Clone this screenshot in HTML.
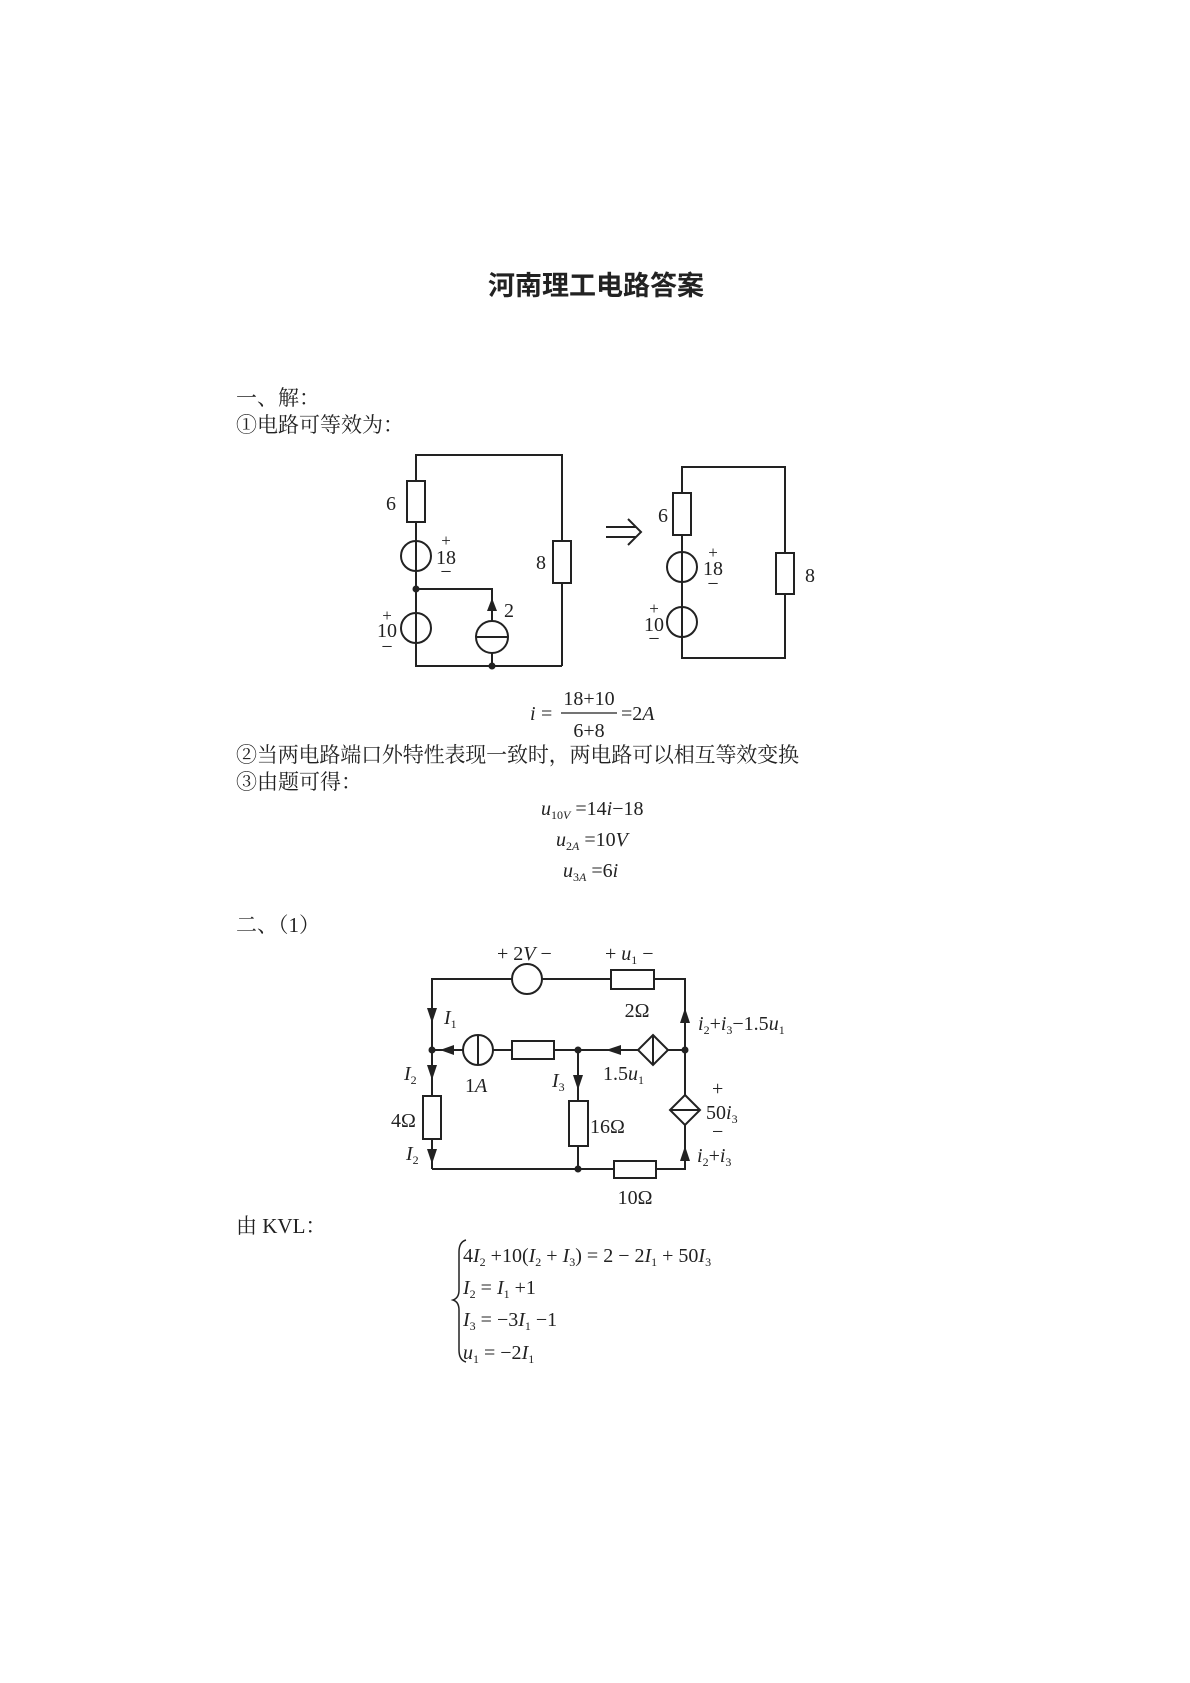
<!DOCTYPE html>
<html><head><meta charset="utf-8"><style>
html,body{margin:0;padding:0;background:#fff;}
svg{display:block;}
.cn{font-family:"Liberation Serif","Noto Serif CJK SC","Noto Sans CJK SC",serif;fill:#222;}
.m{font-family:"Liberation Serif",serif;fill:#222;font-size:20px;}
.i{font-style:italic;}
</style></head><body>
<svg width="1190" height="1683" viewBox="0 0 1190 1683" xmlns="http://www.w3.org/2000/svg">
<g class="cn">
<text x="596" y="295" font-size="27" font-weight="bold" text-anchor="middle" font-family="'Noto Sans CJK SC',sans-serif">河南理工电路答案</text>
<text x="236" y="405" font-size="21">一、解：</text>
<text x="236" y="432" font-size="21">①电路可等效为：</text>
<text x="236" y="762" font-size="21" textLength="563">②当两电路端口外特性表现一致时，两电路可以相互等效变换</text>
<text x="236" y="789" font-size="21">③由题可得：</text>
<text x="236" y="932" font-size="21">二、（1）</text>
<text x="236" y="1233" font-size="21">由 KVL：</text>
</g>
<g stroke="#222" stroke-width="2" fill="none">
<polyline points="416,481 416,455 562,455 562,541"/>
<line x1="562" y1="583" x2="562" y2="666"/>
<polyline points="416,643 416,666 562,666"/>
<rect x="407" y="481" width="18" height="41" fill="#fff"/>
<line x1="416" y1="522" x2="416" y2="613"/>
<circle cx="416" cy="556" r="15" fill="#fff"/><line x1="416" y1="541" x2="416" y2="571"/>
<circle cx="416" cy="628" r="15" fill="#fff"/><line x1="416" y1="613" x2="416" y2="643"/>
<polyline points="416,589 492,589 492,621"/>
<circle cx="492" cy="637" r="16" fill="#fff"/><line x1="476" y1="637" x2="508" y2="637"/>
<line x1="492" y1="653" x2="492" y2="666"/>
<rect x="553" y="541" width="18" height="42" fill="#fff"/>
<polyline points="682,493 682,467 785,467 785,553"/>
<polyline points="785,594 785,658 682,658 682,637"/>
<rect x="673" y="493" width="18" height="42" fill="#fff"/>
<line x1="682" y1="535" x2="682" y2="607"/>
<circle cx="682" cy="567" r="15" fill="#fff"/><line x1="682" y1="552" x2="682" y2="582"/>
<circle cx="682" cy="622" r="15" fill="#fff"/><line x1="682" y1="607" x2="682" y2="637"/>
<rect x="776" y="553" width="18" height="41" fill="#fff"/>
<line x1="606" y1="527" x2="636" y2="527"/><line x1="606" y1="537" x2="636" y2="537"/>
<polyline points="628,519 641,532 628,545"/>
<polyline points="432,1169 432,979 512,979"/>
<line x1="542" y1="979" x2="611" y2="979"/>
<polyline points="654,979 685,979 685,1095"/>
<circle cx="527" cy="979" r="15" fill="#fff"/>
<rect x="611" y="970" width="43" height="19" fill="#fff"/>
<line x1="432" y1="1050" x2="463" y2="1050"/>
<circle cx="478" cy="1050" r="15" fill="#fff"/><line x1="478" y1="1035" x2="478" y2="1065"/>
<line x1="493" y1="1050" x2="512" y2="1050"/>
<rect x="512" y="1041" width="42" height="18" fill="#fff"/>
<line x1="554" y1="1050" x2="638" y2="1050"/>
<polygon points="653,1035 668,1050 653,1065 638,1050" fill="#fff"/><line x1="653" y1="1035" x2="653" y2="1065"/>
<line x1="668" y1="1050" x2="685" y2="1050"/>
<line x1="578" y1="1050" x2="578" y2="1101"/>
<rect x="569" y="1101" width="19" height="45" fill="#fff"/>
<line x1="578" y1="1146" x2="578" y2="1169"/>
<rect x="423" y="1096" width="18" height="43" fill="#fff"/>
<polygon points="685,1095 700,1110 685,1125 670,1110" fill="#fff"/><line x1="670" y1="1110" x2="700" y2="1110"/>
<polyline points="685,1125 685,1169 656,1169"/>
<line x1="432" y1="1169" x2="614" y2="1169"/>
<rect x="614" y="1161" width="42" height="17" fill="#fff"/>
<path d="M466,1240 Q459,1242 459,1252 L459,1290 Q459,1298 453,1300 Q459,1302 459,1310 L459,1350 Q459,1360 466,1362" stroke-width="1.5"/>
<line x1="561" y1="713" x2="617" y2="713" stroke-width="1.3"/>
</g>
<g fill="#222">
<circle cx="416" cy="589" r="3.5"/><circle cx="492" cy="666" r="3.5"/>
<polygon points="492,598 487,611 497,611"/>
<circle cx="432" cy="1050" r="3.5"/><circle cx="578" cy="1050" r="3.5"/><circle cx="685" cy="1050" r="3.5"/><circle cx="578" cy="1169" r="3.5"/>
<polygon points="427,1008 437,1008 432,1023"/>
<polygon points="427,1065 437,1065 432,1080"/>
<polygon points="427,1149 437,1149 432,1164"/>
<polygon points="440,1050 454,1045 454,1055"/>
<polygon points="606,1050 621,1045 621,1055"/>
<polygon points="573,1075 583,1075 578,1090"/>
<polygon points="680,1023 690,1023 685,1008"/>
<polygon points="680,1161 690,1161 685,1146"/>
</g>
<g class="m">
<text x="391" y="510" text-anchor="middle">6</text>
<text x="446" y="546" text-anchor="middle" font-size="17">+</text>
<text x="446" y="564" text-anchor="middle">18</text>
<text x="446" y="578" text-anchor="middle">−</text>
<text x="541" y="569" text-anchor="middle">8</text>
<text x="387" y="621" text-anchor="middle" font-size="17">+</text>
<text x="387" y="637" text-anchor="middle">10</text>
<text x="387" y="653" text-anchor="middle">−</text>
<text x="509" y="617" text-anchor="middle">2</text>
<text x="663" y="522" text-anchor="middle">6</text>
<text x="713" y="558" text-anchor="middle" font-size="17">+</text>
<text x="713" y="575" text-anchor="middle">18</text>
<text x="713" y="590" text-anchor="middle">−</text>
<text x="654" y="614" text-anchor="middle" font-size="17">+</text>
<text x="654" y="631" text-anchor="middle">10</text>
<text x="654" y="645" text-anchor="middle">−</text>
<text x="810" y="582" text-anchor="middle">8</text>

<text x="530" y="720" class="i">i</text><text x="541" y="720">=</text>
<text x="589" y="705" text-anchor="middle">18+10</text>
<text x="589" y="737" text-anchor="middle">6+8</text>
<text x="621" y="720">=2<tspan class="i">A</tspan></text>

<text x="541" y="815"><tspan class="i">u</tspan><tspan font-size="12" dy="4">10<tspan class="i">V</tspan></tspan><tspan dy="-4"> =14</tspan><tspan class="i">i</tspan>−18</text>
<text x="556" y="846"><tspan class="i">u</tspan><tspan font-size="12" dy="4">2<tspan class="i">A</tspan></tspan><tspan dy="-4"> =10</tspan><tspan class="i">V</tspan></text>
<text x="563" y="877"><tspan class="i">u</tspan><tspan font-size="12" dy="4">3<tspan class="i">A</tspan></tspan><tspan dy="-4"> =6</tspan><tspan class="i">i</tspan></text>

<text x="497" y="960">+ 2<tspan class="i">V</tspan> −</text>
<text x="605" y="960">+ <tspan class="i">u</tspan><tspan font-size="12" dy="4">1</tspan><tspan dy="-4"> −</tspan></text>
<text x="637" y="1017" text-anchor="middle">2Ω</text>
<text x="444" y="1024" class="i">I<tspan font-size="12" dy="4" font-style="normal">1</tspan></text>
<text x="698" y="1030"><tspan class="i">i</tspan><tspan font-size="12" dy="4">2</tspan><tspan dy="-4">+</tspan><tspan class="i">i</tspan><tspan font-size="12" dy="4">3</tspan><tspan dy="-4">−1.5</tspan><tspan class="i">u</tspan><tspan font-size="12" dy="4">1</tspan></text>
<text x="404" y="1080" class="i">I<tspan font-size="12" dy="4" font-style="normal">2</tspan></text>
<text x="465" y="1092">1<tspan class="i">A</tspan></text>
<text x="552" y="1087" class="i">I<tspan font-size="12" dy="4" font-style="normal">3</tspan></text>
<text x="603" y="1080">1.5<tspan class="i">u</tspan><tspan font-size="12" dy="4">1</tspan></text>
<text x="391" y="1127">4Ω</text>
<text x="590" y="1133">16Ω</text>
<text x="712" y="1095">+</text>
<text x="706" y="1119">50<tspan class="i">i</tspan><tspan font-size="12" dy="4">3</tspan></text>
<text x="712" y="1138">−</text>
<text x="406" y="1160" class="i">I<tspan font-size="12" dy="4" font-style="normal">2</tspan></text>
<text x="697" y="1162"><tspan class="i">i</tspan><tspan font-size="12" dy="4">2</tspan><tspan dy="-4">+</tspan><tspan class="i">i</tspan><tspan font-size="12" dy="4">3</tspan></text>
<text x="635" y="1204" text-anchor="middle">10Ω</text>

<text x="463" y="1262">4<tspan class="i">I</tspan><tspan font-size="12" dy="4">2</tspan><tspan dy="-4"> +10(</tspan><tspan class="i">I</tspan><tspan font-size="12" dy="4">2</tspan><tspan dy="-4"> + </tspan><tspan class="i">I</tspan><tspan font-size="12" dy="4">3</tspan><tspan dy="-4">) = 2 − 2</tspan><tspan class="i">I</tspan><tspan font-size="12" dy="4">1</tspan><tspan dy="-4"> + 50</tspan><tspan class="i">I</tspan><tspan font-size="12" dy="4">3</tspan></text>
<text x="463" y="1294"><tspan class="i">I</tspan><tspan font-size="12" dy="4">2</tspan><tspan dy="-4"> = </tspan><tspan class="i">I</tspan><tspan font-size="12" dy="4">1</tspan><tspan dy="-4"> +1</tspan></text>
<text x="463" y="1326"><tspan class="i">I</tspan><tspan font-size="12" dy="4">3</tspan><tspan dy="-4"> = −3</tspan><tspan class="i">I</tspan><tspan font-size="12" dy="4">1</tspan><tspan dy="-4"> −1</tspan></text>
<text x="463" y="1359"><tspan class="i">u</tspan><tspan font-size="12" dy="4">1</tspan><tspan dy="-4"> = −2</tspan><tspan class="i">I</tspan><tspan font-size="12" dy="4">1</tspan></text>
</g>
</svg>
</body></html>
